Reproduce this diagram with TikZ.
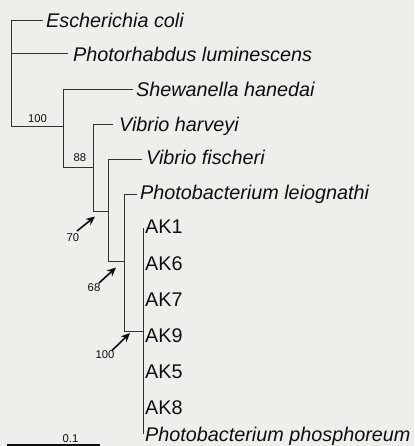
\documentclass[tikz,border=0pt]{standalone}
\usepackage{fontspec}
\setmainfont{Liberation Sans}
\usetikzlibrary{arrows.meta}
\definecolor{paper}{RGB}{238,238,235}
\definecolor{ink}{RGB}{15,15,15}
\definecolor{branch}{RGB}{50,50,50}
\begin{document}
\begin{tikzpicture}[x=1pt,y=-1pt,
  br/.style={draw=branch,line width=1pt},
  sp/.style={anchor=base west,inner sep=0pt,text=ink,font=\fontsize{19.8}{22}\selectfont\itshape},
  ak/.style={anchor=base west,inner sep=0pt,text=ink,font=\fontsize{19.8}{22}\selectfont},
  bs/.style={anchor=base,inner sep=0pt,text=ink,font=\fontsize{11.3}{13}\selectfont},
  arr/.style={draw=ink,line width=1.6pt,-{Stealth[length=9pt,width=8pt]}},
  scalebar/.style={draw=ink,line width=2pt}]
\fill[paper] (0,0) rectangle (414,446);
\useasboundingbox (0,0) rectangle (414,446);
% internal nodes
\coordinate (root) at (11,127);
\coordinate (n100) at (63,127);
\coordinate (n88) at (93,168);
\coordinate (n70) at (108,211);
\coordinate (n68) at (124,261);
\coordinate (nb100) at (143,331);
% leaf tips
\coordinate (ecoli) at (43,21);
\coordinate (photo) at (68,54);
\coordinate (shew) at (133,90);
\coordinate (vharv) at (113,125);
\coordinate (vfisch) at (142,160);
\coordinate (pleio) at (137,194);
\coordinate (ak1) at (143,228);
\coordinate (pphos) at (143,434);
% branches
\draw[br] (root) |- (ecoli);
\draw[br] (root) |- (photo);
\draw[br] (root) -- (n100);
\draw[br] (n100) |- (shew);
\draw[br] (n100) |- (n88);
\draw[br] (n88) |- (vharv);
\draw[br] (n88) |- (n70);
\draw[br] (n70) |- (vfisch);
\draw[br] (n70) |- (n68);
\draw[br] (n68) |- (pleio);
\draw[br] (n68) |- (nb100);
\draw[br] (nb100) -- (ak1);
\draw[br] (nb100) -- (pphos);
% labels
\node[sp] (lecoli) at (46,27.5) {Escherichia coli};
\node[sp] (lphoto) at (73,62) {Photorhabdus luminescens};
\node[sp] (lshew) at (136,97) {Shewanella hanedai};
\node[sp] (lvharv) at (119,132) {Vibrio harveyi};
\node[sp] (lvfisch) at (146,165) {Vibrio fischeri};
\node[sp] (lpleio) at (140,200) {Photobacterium leiognathi};
\node[ak] (lak1) at (145,233.5) {AK1};
\node[ak] (lak6) at (145,270) {AK6};
\node[ak] (lak7) at (145,306) {AK7};
\node[ak] (lak9) at (145,342) {AK9};
\node[ak] (lak5) at (145,378) {AK5};
\node[ak] (lak8) at (145,414) {AK8};
\node[sp] (lpphos) at (145,441) {Photobacterium phosphoreum};
% bootstrap values
\node[bs] (b100) at (37.5,123) {100};
\node[bs] (b88) at (80,162) {88};
\node[bs] (b70) at (73,241) {70};
\node[bs] (b68) at (94,291) {68};
\node[bs] (bb100) at (105,358) {100};
% arrows
\coordinate (a70s) at (77,231);
\coordinate (a70e) at (95,216.5);
\coordinate (a68s) at (99,283);
\coordinate (a68e) at (116,267.5);
\coordinate (a100s) at (112,350.5);
\coordinate (a100e) at (130,333);
\draw[arr] (a70s) -- (a70e);
\draw[arr] (a68s) -- (a68e);
\draw[arr] (a100s) -- (a100e);
% scale bar
\coordinate (sb1) at (7,445);
\coordinate (sb2) at (100,445);
\draw[scalebar] (sb1) -- (sb2);
\node[bs] (lsb) at (70.5,442) {0.1};
\end{tikzpicture}
\end{document}
